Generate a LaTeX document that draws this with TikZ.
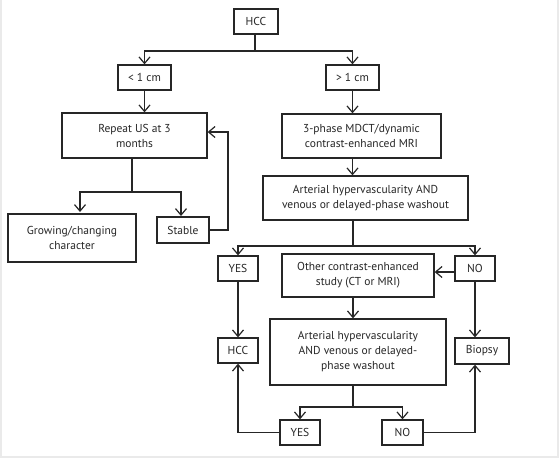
\documentclass[tikz,border=0pt]{standalone}
\usepackage{fontspec}
\setmainfont{PT Sans}
\usetikzlibrary{arrows.meta}
\definecolor{ln}{HTML}{262626}
\definecolor{fr}{HTML}{EAEAEA}
\tikzset{
  box/.style={draw=ln, line width=1.3pt, align=center, inner sep=0pt, font=\fontsize{11.5}{15}\selectfont, text=ln},
  conn/.style={draw=ln, line width=1.3pt},
  arr/.style={conn, -{Straight Barb[length=6.5pt,width=11pt,line width=1.2pt]}},
}
\begin{document}
\begin{tikzpicture}[x=1pt,y=-1pt]
\useasboundingbox (0,0) rectangle (560,459);
\fill[white] (0,0) rectangle (560,459);
\draw[fr, line width=1.5pt] (0.8,0) -- (0.8,457.2) -- (558.2,457.2) -- (558.2,0);
% nodes
\node[box, minimum width=44pt, minimum height=25pt] (hcc) at (256,21.5) {HCC};
\node[box, minimum width=53pt, minimum height=25pt] (lt) at (144.5,77.5) {< 1 cm};
\node[box, minimum width=53pt, minimum height=25pt] (gt) at (352.5,77.5) {> 1 cm};
\node[box, minimum width=145pt, minimum height=45pt] (rep) at (134.5,135.5) {Repeat US at 3\\months};
\node[box, minimum width=159pt, minimum height=44pt] (mdct) at (361.5,136) {3-phase MDCT/dynamic\\contrast-enhanced MRI};
\node[box, minimum width=205pt, minimum height=44pt] (art1) at (365.5,198) {Arterial hypervascularity AND\\venous or delayed-phase washout};
\node[box, minimum width=128pt, minimum height=48pt] (grow) at (72,238) {Growing/changing\\character};
\node[box, minimum width=52pt, minimum height=26pt] (stab) at (183,230) {Stable};
\node[box, minimum width=40pt, minimum height=25pt] (yes1) at (238,268.5) {YES};
\node[box, minimum width=152pt, minimum height=43pt] (oth) at (358,275.5) {Other contrast-enhanced\\study (CT or MRI)};
\node[box, minimum width=40pt, minimum height=25pt] (no1) at (475,268.5) {NO};
\node[box, minimum width=176pt, minimum height=66pt] (art2) at (358,352) {Arterial hypervascularity\\AND venous or delayed-\\phase washout};
\node[box, minimum width=40pt, minimum height=25pt] (hcc2) at (238,350.5) {HCC};
\node[box, minimum width=54pt, minimum height=26pt] (bio) at (482,351) {Biopsy};
\node[box, minimum width=40pt, minimum height=25pt] (yes2) at (300,432.5) {YES};
\node[box, minimum width=41pt, minimum height=25pt] (no2) at (402.5,432.5) {NO};
% coordinates
\coordinate (j1) at (255,51);
\coordinate (j2) at (132,192);
\coordinate (j3) at (353,246);
\coordinate (j4) at (353,407);
% connectors
\draw[conn] (hcc.south -| j1) -- (j1);
\draw[arr] (j1) -| (lt.north);
\draw[arr] (j1) -| (gt.north);
\draw[arr] (lt) -- (rep.north -| lt);
\draw[arr] (gt) -- (mdct.north -| gt);
\draw[arr] (mdct.south -| gt) -- (art1.north -| gt);
\draw[conn] (rep.south -| j2) -- (j2);
\draw[arr] (j2) -| (80,212);
\draw[arr] (j2) -| (181,216);
\draw[arr] (stab.east) -| (228,132) -- (rep.east |- 0,132);
\draw[conn] (art1.south -| j3) -- (j3);
\draw[arr] (j3) -| (yes1.north);
\draw[arr] (j3) -| (no1.north);
\draw[arr] (no1.west |- 0,272) -- (oth.east |- 0,272);
\draw[arr] (oth.south -| j3) -- (art2.north -| j3);
\draw[arr] (yes1) -- (hcc2);
\draw[arr] (no1.south) -- (no1.south |- bio.north);
\draw[conn] (art2.south -| j4) -- (j4);
\draw[arr] (j4) -| (yes2.north);
\draw[arr] (j4) -| (no2.north);
\draw[arr] (yes2.west) -| (hcc2.south);
\draw[arr] (no2.east) -| (no1.south |- bio.south);
\end{tikzpicture}
\end{document}
